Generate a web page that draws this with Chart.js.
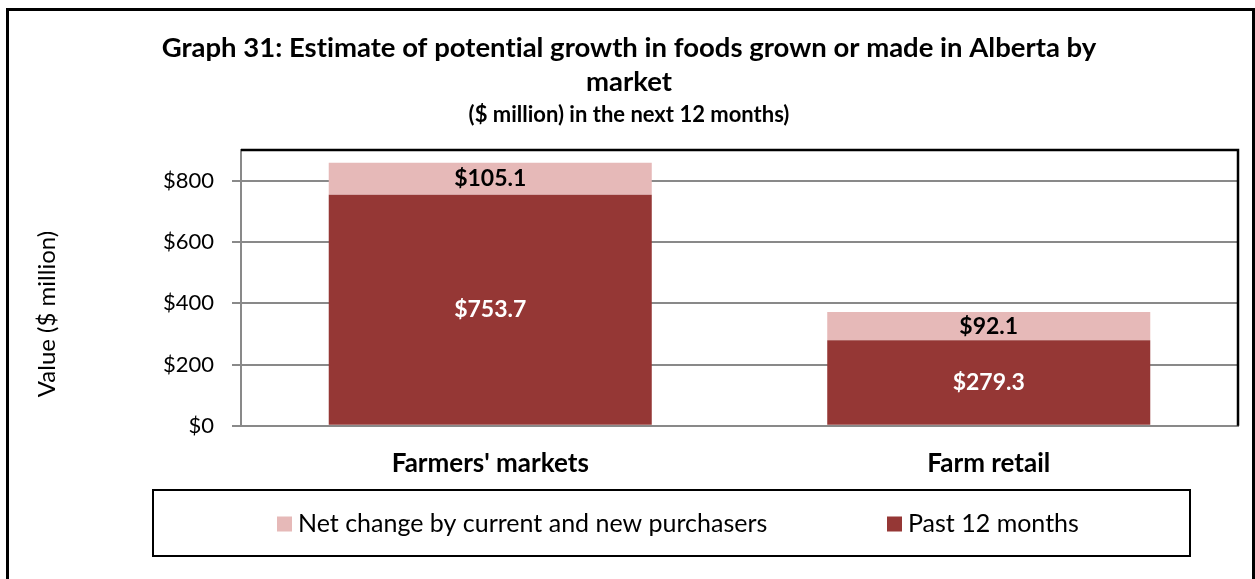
<!DOCTYPE html>
<html>
<head>
<meta charset="utf-8">
<script src="https://cdn.jsdelivr.net/npm/chart.js@4.4.1/dist/chart.umd.min.js"></script>
<style>
  html, body { margin: 0; padding: 0; background: #ffffff; }
  #wrap { width: 1255px; height: 579px; position: relative; }
</style>
</head>
<body>
<div id="wrap"><canvas id="chart" width="1255" height="579"></canvas></div>
<script>
// Market categories and the two stacked series ($ million)
const markets = ["Farmers' markets", "Farm retail"];
const past12Months = [753.7, 279.3];
const netChange = [105.1, 92.1];
const seriesNames = ["Past 12 months", "Net change by current and new purchasers"];
const yTicks = [0, 200, 400, 600, 800];
const yMax = 900;
const titleLines = ["Graph 31: Estimate of potential growth in foods grown or made in Alberta by", "market"];
const subtitleText = "($ million) in the next 12 months)";
const yAxisTitle = "Value ($ million)";

const FONT = "Lato, 'Open Sans', sans-serif";
const DARK = '#953735';
const LIGHT = '#E6B9B8';
const GRID = '#898989';

// Plain glyphs (no ligatures) for every piece of text
const textSetup = {
  id: 'textSetup',
  beforeDraw(chart) { chart.ctx.textRendering = 'optimizeSpeed'; }
};

// Outer frame, black top/right plot edges and the rotated value-axis caption
const framePlugin = {
  id: 'frame',
  afterDraw(chart, args, opts) {
    const { ctx, chartArea: a } = chart;
    ctx.save();
    ctx.strokeStyle = '#000';
    ctx.lineWidth = 3;
    ctx.strokeRect(7.5, 9.5, 1246, 640);
    ctx.lineWidth = 2.5;
    ctx.beginPath();
    ctx.moveTo(a.left, a.top);
    ctx.lineTo(a.right, a.top);
    ctx.lineTo(a.right, a.bottom);
    ctx.stroke();
    ctx.translate(opts.captionX, opts.captionY);
    ctx.rotate(-Math.PI / 2);
    ctx.fillStyle = '#000';
    ctx.font = "24px " + FONT;
    ctx.textAlign = 'center';
    ctx.textBaseline = 'middle';
    ctx.fillText(yAxisTitle, 0, 0);
    ctx.restore();
  }
};

// Value labels centred inside each stacked segment
const valueLabels = {
  id: 'valueLabels',
  afterDatasetsDraw(chart) {
    const { ctx } = chart;
    ctx.save();
    ctx.font = "bold 23px " + FONT;
    ctx.textAlign = 'center';
    ctx.textBaseline = 'middle';
    chart.data.datasets.forEach((ds, di) => {
      const meta = chart.getDatasetMeta(di);
      ctx.fillStyle = ds.labelColor;
      meta.data.forEach((el, i) => {
        const y = (el.y + el.base) / 2;
        ctx.fillText('$' + ds.data[i].toFixed(1), el.x, y);
      });
    });
    ctx.restore();
  }
};

// Boxed legend below the axis, light series listed first
const boxedLegend = {
  id: 'boxedLegend',
  afterDraw(chart, args, opts) {
    const { ctx } = chart;
    ctx.save();
    ctx.strokeStyle = '#000';
    ctx.lineWidth = 2;
    ctx.strokeRect(opts.box.x, opts.box.y, opts.box.w, opts.box.h);
    ctx.font = "25px " + FONT;
    ctx.textBaseline = 'middle';
    ctx.textAlign = 'left';
    const order = [1, 0];
    order.forEach((di, k) => {
      const ds = chart.data.datasets[di];
      const x = opts.itemX[k];
      ctx.fillStyle = ds.backgroundColor;
      ctx.fillRect(x, opts.itemY - 7.5, 15, 15);
      ctx.fillStyle = '#000';
      ctx.fillText(ds.label, x + 21, opts.itemY);
    });
    ctx.restore();
  }
};

new Chart(document.getElementById('chart'), {
  type: 'bar',
  data: {
    labels: markets,
    datasets: [
      { label: seriesNames[0], data: past12Months, backgroundColor: DARK, labelColor: '#ffffff' },
      { label: seriesNames[1], data: netChange, backgroundColor: LIGHT, labelColor: '#000000' }
    ]
  },
  options: {
    responsive: false,
    animation: false,
    devicePixelRatio: 1,
    barPercentage: 0.648,
    categoryPercentage: 1,
    layout: { padding: { left: 20, right: 17, top: 31, bottom: 78 } },
    plugins: {
      legend: { display: false },
      tooltip: { enabled: false },
      title: {
        display: true,
        text: titleLines,
        color: '#000',
        font: { family: FONT, size: 27.5, weight: 'bold', lineHeight: 34 / 27.5 },
        padding: { top: 0, bottom: 5 }
      },
      subtitle: {
        display: true,
        text: subtitleText,
        color: '#000',
        font: { family: FONT, size: 22, weight: 'bold', lineHeight: 1 },
        padding: { top: 0, bottom: 24 }
      },
      frame: { captionX: 47, captionY: 314 },
      boxedLegend: {
        box: { x: 153, y: 490, w: 1037, h: 66 },
        itemX: [277, 887],
        itemY: 524
      }
    },
    scales: {
      x: {
        stacked: true,
        grid: { display: false, drawTicks: false },
        border: { display: true, color: GRID, width: 2 },
        ticks: {
          color: '#000',
          padding: 22,
          font: { family: FONT, size: 26, weight: 'bold' }
        }
      },
      y: {
        stacked: true,
        min: 0,
        max: yMax,
        afterBuildTicks(scale) { scale.ticks = yTicks.map(v => ({ value: v })); },
        afterFit(scale) { scale.width = 241 - 20; },
        grid: { color: GRID, lineWidth: 2, tickLength: 9, drawTicks: true },
        border: { display: true, color: GRID, width: 2 },
        ticks: {
          color: '#000',
          padding: 18,
          font: { family: FONT, size: 22 },
          callback: v => '$' + v
        }
      }
    }
  },
  plugins: [textSetup, framePlugin, valueLabels, boxedLegend]
});
</script>
</body>
</html>
